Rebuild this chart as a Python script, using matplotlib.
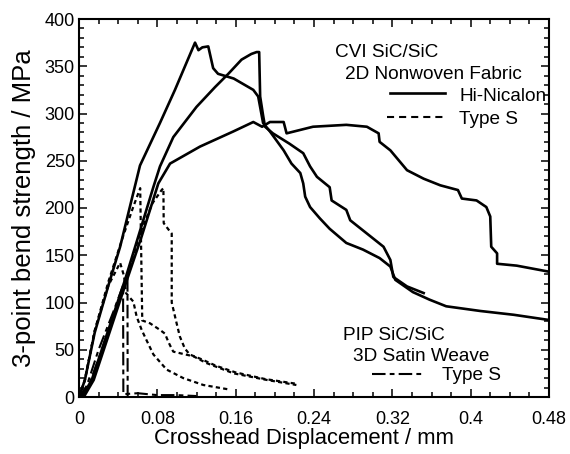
import matplotlib
matplotlib.use("Agg")
import matplotlib.pyplot as plt
from matplotlib.ticker import MultipleLocator, FixedLocator

plt.rcParams['font.family'] = ['Liberation Sans', 'DejaVu Sans']

# ---------------- data ----------------
# CVI SiC/SiC, Hi-Nicalon (solid)
hiA_x = [0, 0.006, 0.016, 0.03, 0.042, 0.0623, 0.0827, 0.098, 0.1185, 0.122, 0.126, 0.132,
         0.137, 0.142, 0.158, 0.178, 0.183, 0.188, 0.195, 0.209, 0.217, 0.226, 0.229, 0.231,
         0.236, 0.246, 0.256, 0.273, 0.29, 0.307, 0.318, 0.323, 0.341, 0.358, 0.375, 0.41, 0.444, 0.48]
hiA_y = [0, 18, 68, 118, 159, 245, 290, 325, 375, 367, 370, 371,
         348, 342, 337, 325, 318, 290, 281, 261, 247, 237, 226, 212,
         201, 189, 178, 163, 156, 147, 138, 124, 111, 103, 96, 91, 87, 81.5]

hiB_x = [0, 0.004, 0.013, 0.03, 0.047, 0.0606, 0.0759, 0.0827, 0.0963, 0.12, 0.139, 0.1525, 0.166,
         0.176, 0.1814, 0.184, 0.185, 0.188, 0.19, 0.198, 0.215, 0.229, 0.236, 0.243, 0.256, 0.258,
         0.273, 0.277, 0.294, 0.311, 0.318, 0.321, 0.335, 0.352]
hiB_y = [0, 2, 18, 71, 124, 170, 222, 244, 275, 307, 328, 342, 357,
         363, 365, 365, 318, 298, 286, 279, 268, 258, 244, 233, 222, 208,
         198, 187, 173, 159, 145, 127, 117, 110]

hiC_x = [0, 0.006, 0.015, 0.032, 0.049, 0.064, 0.081, 0.093, 0.1236, 0.1576, 0.178, 0.187,
         0.195, 0.209, 0.212, 0.239, 0.273, 0.294, 0.306, 0.307, 0.318, 0.335, 0.352, 0.369, 0.387,
         0.391, 0.406, 0.416, 0.42, 0.421, 0.427, 0.427, 0.447, 0.48]
hiC_y = [0, 2, 18, 71, 124, 170, 226, 247, 265, 281, 291, 286,
         291, 291, 279, 286, 288, 286, 279, 270, 261, 240, 231, 224, 219,
         210, 208, 201, 191, 159, 152, 141, 139, 132.6]

# CVI SiC/SiC, Type S (short dashes)
s1_x = [0, 0.006, 0.016, 0.03, 0.045, 0.055, 0.0625, 0.0646, 0.0725, 0.0827, 0.0878, 0.0912, 0.0947,
        0.0963, 0.117, 0.13, 0.158, 0.192, 0.222]
s1_y = [0, 18, 70, 122, 170, 200, 221, 81, 78, 71, 67, 58.5, 51,
        48, 43, 36, 25, 18, 12.7]

s2_x = [0, 0.005, 0.014, 0.031, 0.048, 0.062, 0.075, 0.0844, 0.0862, 0.0865, 0.093, 0.0947, 0.0947,
        0.0997, 0.103, 0.108, 0.113, 0.125, 0.14, 0.16, 0.19, 0.222]
s2_y = [0, 2, 18, 71, 124, 172, 205, 219, 221, 184, 175, 173, 100,
        78, 64, 51.5, 45, 40, 33, 26, 19, 14]

s3_x = [0, 0.006, 0.016, 0.03, 0.042, 0.046, 0.048, 0.052, 0.0555, 0.0589, 0.064, 0.069, 0.076,
        0.0895, 0.1065, 0.127, 0.1525]
s3_y = [0, 18, 70, 118, 142, 128, 110, 105, 101, 85, 71, 60, 45,
        29, 20, 12.7, 8.1]

# PIP SiC/SiC, Type S (long-short dash)
p1_x = [0, 0.008, 0.02, 0.035, 0.045, 0.0453, 0.06, 0.07, 0.08, 0.1, 0.12]
p1_y = [0, 12, 50, 90, 118, 3, 4, 3, 2, 2, 1]
p2_x = [0, 0.01, 0.025, 0.04, 0.0495, 0.0497]
p2_y = [0, 12, 55, 100, 128, 0]

xticks = [0, 0.08, 0.16, 0.24, 0.32, 0.4, 0.48]
xtick_labels = ["0", "0.08", "0.16", "0.24", "0.32", "0.4", "0.48"]
yticks = [0, 50, 100, 150, 200, 250, 300, 350, 400]

# ---------------- figure ----------------
fig = plt.figure(figsize=(5.7, 4.54), dpi=100)
ax = fig.add_axes([79/570, 57/454, 470/570, 378/454])

solid = dict(color='black', lw=1.9, solid_joinstyle='round')
short = dict(color='black', lw=1.6, linestyle=(0, (1.9, 1.45)))
pip = dict(color='black', lw=1.5, linestyle=(0, (6.5, 2.0, 2.3, 2.0)))

for xs, ys in [(p1_x, p1_y), (p2_x, p2_y)]:
    ax.plot(xs, ys, **pip)
for xs, ys in [(s1_x, s1_y), (s2_x, s2_y), (s3_x, s3_y)]:
    ax.plot(xs, ys, **short)
for xs, ys in [(hiA_x, hiA_y), (hiB_x, hiB_y), (hiC_x, hiC_y)]:
    ax.plot(xs, ys, **solid)

ax.set_xlim(0, 0.48)
ax.set_ylim(0, 400)
ax.xaxis.set_major_locator(FixedLocator(xticks))
ax.set_xticklabels(xtick_labels)
ax.xaxis.set_minor_locator(MultipleLocator(0.02))
ax.yaxis.set_major_locator(FixedLocator(yticks))
ax.yaxis.set_minor_locator(MultipleLocator(10))
ax.tick_params(which='both', direction='in', top=True, right=True, labelsize=13, width=1.1)
ax.tick_params(which='major', length=6)
ax.tick_params(which='minor', length=3.5)
ax.tick_params(axis='x', which='major', pad=10)
ax.tick_params(axis='y', which='major', pad=3)
for s in ax.spines.values():
    s.set_linewidth(1.5)

ax.set_xlabel("Crosshead Displacement / mm", fontsize=15.8)
ax.xaxis.set_label_coords(0.479, -0.082)
ax.set_ylabel("3-point bend strength / MPa", fontsize=18.5, labelpad=6)

# in-plot legend text
tfs = 13.7
T = ax.transAxes
ax.text(0.545, 0.899, "CVI SiC/SiC", transform=T, fontsize=tfs, va='baseline', ha='left')
ax.text(0.566, 0.841, "2D Nonwoven Fabric", transform=T, fontsize=tfs, va='baseline', ha='left')
ax.plot([0.662, 0.779], [0.804, 0.804], transform=T, **solid)
ax.text(0.809, 0.783, "Hi-Nicalon", transform=T, fontsize=tfs, va='baseline', ha='left')
ax.plot([0.655, 0.779], [0.741, 0.741], transform=T, color='black', lw=1.5,
        linestyle=(0, (3.4, 2.4)))
ax.text(0.809, 0.722, "Type S", transform=T, fontsize=tfs, va='baseline', ha='left')

ax.text(0.562, 0.152, "PIP SiC/SiC", transform=T, fontsize=tfs, va='baseline', ha='left')
ax.text(0.583, 0.095, "3D Satin Weave", transform=T, fontsize=tfs, va='baseline', ha='left')
ax.plot([0.623, 0.730], [0.061, 0.061], transform=T, **pip)
ax.text(0.772, 0.045, "Type S", transform=T, fontsize=tfs, va='baseline', ha='left')

fig.savefig("out.png", dpi=100)
